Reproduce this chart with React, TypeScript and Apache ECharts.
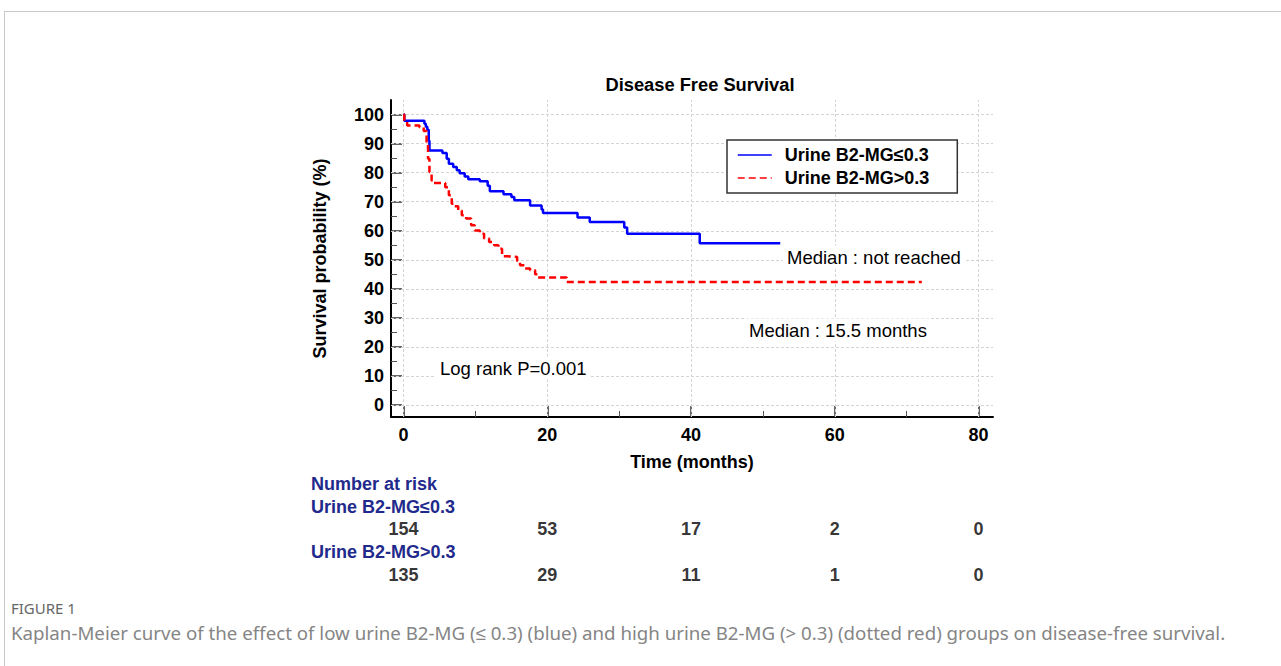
import React, { useEffect, useRef } from "react";
import * as echarts from "echarts";

// ---- Data ----
const blueTime = [0, 0.1, 2.9, 3.1, 3.3, 3.5, 3.6, 5.4, 6.0, 6.3, 6.9, 7.4, 7.8, 8.5, 9.0, 10.6, 11.7, 12.0, 13.9, 15.0, 15.4, 17.6, 19.2, 19.4, 24.2, 25.9, 30.7, 31.1, 41.2, 52.4];
const blueSurvival = [100, 97.9, 96.8, 95.8, 94.8, 91.0, 87.6, 86.8, 84.8, 83.1, 81.9, 80.8, 79.8, 78.7, 77.7, 77.0, 75.5, 73.6, 72.6, 71.6, 70.5, 68.7, 67.3, 66.1, 64.6, 63.0, 61.1, 59.0, 55.7, 55.7];

const redTime = [0, 0.1, 0.5, 2.2, 2.8, 3.2, 3.4, 3.6, 3.9, 4.2, 5.8, 6.3, 6.7, 7.1, 7.6, 8.1, 8.7, 9.4, 9.9, 10.6, 11.2, 11.9, 12.6, 13.2, 13.7, 14.4, 15.8, 16.2, 16.9, 17.6, 18.3, 18.7, 22.7, 72.1];
const redSurvival = [100, 97.7, 96.2, 95.6, 94.3, 89.9, 84.8, 80.2, 77.3, 76.4, 75.0, 72.2, 69.3, 68.4, 67.0, 65.3, 64.2, 61.9, 60.1, 59.0, 57.3, 56.1, 55.0, 53.8, 51.2, 51.0, 49.6, 48.1, 47.0, 46.4, 45.0, 43.9, 42.4, 42.4];

const seriesNames = ["Urine B2-MG≤0.3", "Urine B2-MG>0.3"];

const xTickLabels = [0, 20, 40, 60, 80];
const xMinorTicks = [10, 30, 50, 70];
const yTickLabels = [0, 10, 20, 30, 40, 50, 60, 70, 80, 90, 100];
const yMinorTicks = [5, 15, 25, 35, 45, 55, 65, 75, 85, 95];

const riskTimes = [0, 20, 40, 60, 80];
const riskLow = [154, 53, 17, 2, 0];
const riskHigh = [135, 29, 11, 1, 0];

const FONT = 'Arial, "Liberation Sans", Helvetica, sans-serif';
const NAVY = "#1f2a8c";

export default function App() {
  const ref = useRef<HTMLDivElement>(null);

  useEffect(() => {
    if (!ref.current) return;
    const chart = echarts.init(ref.current, undefined, { renderer: "svg" });

    const X_MIN = -1.75, X_MAX = 82, Y_MIN = -4.1, Y_MAX = 105;
    const boldText = { fontFamily: FONT, fontSize: 18, fontWeight: "bold" as const, color: "#000" };
    const noteStyle = { fontFamily: FONT, fontSize: 18.5, fill: "#000", align: "left", verticalAlign: "middle", backgroundColor: "#fff", padding: [2, 4] };

    const option: any = {
      animation: false,
      backgroundColor: "#fff",
      title: {
        text: "Disease Free Survival",
        left: 695,
        top: 70,
        textAlign: "center",
        textStyle: { ...boldText, fontSize: 18.3 },
      },
      legend: {
        data: seriesNames,
        orient: "vertical",
        left: 727,
        top: 140,
        z: 20,
        padding: [6, 28, 6, 10],
        itemWidth: 34,
        itemHeight: 14,
        itemGap: 5,
        borderColor: "#333",
        borderWidth: 1.5,
        backgroundColor: "#fff",
        lineStyle: { width: 1.5 },
        itemStyle: { color: "transparent", borderColor: "transparent", borderWidth: 0 },
        textStyle: { ...boldText, padding: [0, 0, 0, 8] },
      },
      grid: [
        { left: 391, right: 288, top: 100, bottom: 249 },
        { left: 391, right: 288, top: 529, height: 46 },
      ],
      xAxis: [
        {
          type: "value", gridIndex: 0, min: X_MIN, max: X_MAX, position: "bottom",
          axisLine: { show: true, onZero: false, lineStyle: { color: "#000", width: 2 } },
          axisTick: { show: true, inside: true, length: 11, customValues: xTickLabels, lineStyle: { color: "#333", width: 1.5 } },
          axisLabel: { show: true, customValues: xTickLabels, margin: 9, ...boldText },
          splitLine: { show: false },
          name: "Time (months)", nameLocation: "middle", nameGap: 36,
          nameTextStyle: { ...boldText },
        },
        {
          type: "value", gridIndex: 0, min: X_MIN, max: X_MAX, position: "bottom",
          axisLine: { show: false, onZero: false },
          axisTick: { show: true, inside: true, length: 6, customValues: xMinorTicks, lineStyle: { color: "#555", width: 1 } },
          axisLabel: { show: false },
          splitLine: { show: false },
        },
        { type: "value", gridIndex: 1, min: X_MIN, max: X_MAX, show: false },
      ],
      yAxis: [
        {
          type: "value", gridIndex: 0, min: Y_MIN, max: Y_MAX, position: "left",
          axisLine: { show: true, onZero: false, lineStyle: { color: "#000", width: 2 } },
          axisTick: { show: true, inside: true, length: 11, customValues: yTickLabels, lineStyle: { color: "#333", width: 1.5 } },
          axisLabel: { show: true, customValues: yTickLabels, margin: 7, ...boldText },
          splitLine: { show: false },
          name: "Survival probability (%)", nameLocation: "middle", nameGap: 62, nameRotate: 90,
          nameTextStyle: { ...boldText },
        },
        {
          type: "value", gridIndex: 0, min: Y_MIN, max: Y_MAX, position: "left",
          axisLine: { show: false, onZero: false },
          axisTick: { show: true, inside: true, length: 6, customValues: yMinorTicks, lineStyle: { color: "#555", width: 1 } },
          axisLabel: { show: false },
          splitLine: { show: false },
        },
        { type: "value", gridIndex: 1, min: 0, max: 1, show: false },
      ],
      series: [
        {
          name: "grid",
          type: "line",
          xAxisIndex: 0, yAxisIndex: 0,
          data: [[0, 100]],
          symbol: "none",
          lineStyle: { opacity: 0 },
          silent: true,
          z: 1,
          markLine: {
            silent: true,
            z: 1,
            symbol: ["none", "none"],
            label: { show: false },
            lineStyle: { color: "#d4d4d4", type: [3, 2], width: 1 },
            data: [
              ...xTickLabels.map((v) => ({ xAxis: v })),
              ...yTickLabels.map((v) => ({ yAxis: v })),
            ],
          },
        },
        {
          name: seriesNames[0],
          type: "line",
          step: "end",
          symbol: "none",
          xAxisIndex: 0, yAxisIndex: 0,
          data: blueTime.map((t, i) => [t, blueSurvival[i]]),
          lineStyle: { color: "#0000ff", width: 2.5 },
          itemStyle: { color: "#0000ff" },
          z: 3,
        },
        {
          name: seriesNames[1],
          type: "line",
          step: "end",
          symbol: "none",
          xAxisIndex: 0, yAxisIndex: 0,
          data: redTime.map((t, i) => [t, redSurvival[i]]),
          lineStyle: { color: "#ff0000", width: 2.5, type: [7, 4] },
          itemStyle: { color: "#ff0000" },
          z: 3,
        },
        {
          name: "riskLow",
          type: "scatter",
          xAxisIndex: 2, yAxisIndex: 2,
          symbolSize: 0,
          itemStyle: { color: "transparent" },
          data: riskTimes.map((t, i) => [t, 1, riskLow[i]]),
          label: { show: true, position: "inside", formatter: (p: any) => String(p.value[2]), ...boldText },
          silent: true,
        },
        {
          name: "riskHigh",
          type: "scatter",
          xAxisIndex: 2, yAxisIndex: 2,
          symbolSize: 0,
          itemStyle: { color: "transparent" },
          data: riskTimes.map((t, i) => [t, 0, riskHigh[i]]),
          label: { show: true, position: "inside", formatter: (p: any) => String(p.value[2]), ...boldText },
          silent: true,
        },
      ],
      graphic: [
        { type: "line", shape: { x1: 4, y1: 11.5, x2: 1281, y2: 11.5 }, style: { stroke: "#c8c8c8", lineWidth: 1 } },
        { type: "line", shape: { x1: 4.5, y1: 11, x2: 4.5, y2: 666 }, style: { stroke: "#c8c8c8", lineWidth: 1 } },
        { type: "text", x: 436, y: 368, style: { text: "Log rank P=0.001", ...noteStyle }, z: 10 },
        { type: "text", x: 783, y: 257, style: { text: "Median : not reached", ...noteStyle }, z: 10 },
        { type: "text", x: 745, y: 330, style: { text: "Median : 15.5 months", ...noteStyle }, z: 10 },
        { type: "text", x: 311, y: 484, style: { text: "Number at risk", fontFamily: FONT, fontSize: 18, fontWeight: "bold", fill: NAVY, align: "left", verticalAlign: "middle" } },
        { type: "text", x: 311, y: 507, style: { text: seriesNames[0], fontFamily: FONT, fontSize: 18, fontWeight: "bold", fill: NAVY, align: "left", verticalAlign: "middle" } },
        { type: "text", x: 311, y: 552, style: { text: seriesNames[1], fontFamily: FONT, fontSize: 18, fontWeight: "bold", fill: NAVY, align: "left", verticalAlign: "middle" } },
        { type: "text", x: 11, y: 608, style: { text: "FIGURE 1", fontFamily: '"Noto Sans", sans-serif', fontSize: 15, fill: "#666", align: "left", verticalAlign: "middle" } },
        { type: "text", x: 11, y: 632, style: { text: "Kaplan-Meier curve of the effect of low urine B2-MG (≤ 0.3) (blue) and high urine B2-MG (> 0.3) (dotted red) groups on disease-free survival.", fontFamily: '"Noto Sans", sans-serif', fontSize: 18.7, fill: "#858585", align: "left", verticalAlign: "middle" } },
      ],
    };

    chart.setOption(option);
    return () => chart.dispose();
  }, []);

  return (
    <div
      ref={ref}
      style={{ position: "absolute", left: 0, top: 0, width: 1281, height: 666, background: "#fff" }}
    />
  );
}
